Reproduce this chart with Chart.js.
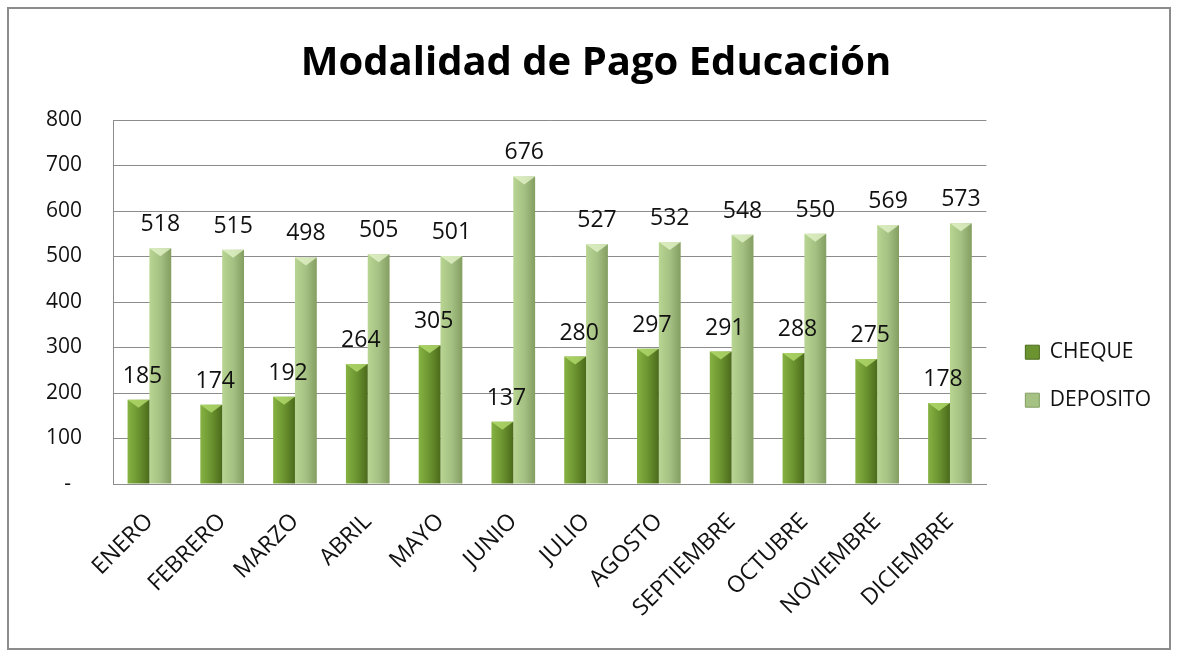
<!DOCTYPE html>
<html>
<head>
<meta charset="utf-8">
<script src="https://cdn.jsdelivr.net/npm/chart.js@4.4.1/dist/chart.umd.min.js"></script>
<style>
  html, body { margin: 0; padding: 0; background: #fff; }
  #frame { position: absolute; left: 7px; top: 7px; width: 1164px; height: 643px; border: 2px solid #8c8c8c; box-sizing: border-box; }
  #wrap { position: absolute; left: 0; top: 0; width: 1180px; height: 654px; }
</style>
</head>
<body>
<div id="frame"></div>
<div id="wrap"><canvas id="pago-chart" width="1180" height="654"></canvas></div>
<script>
let meses = ['ENERO', 'FEBRERO', 'MARZO', 'ABRIL', 'MAYO', 'JUNIO', 'JULIO', 'AGOSTO', 'SEPTIEMBRE', 'OCTUBRE', 'NOVIEMBRE', 'DICIEMBRE'];
let cheque = [185, 174, 192, 264, 305, 137, 280, 297, 291, 288, 275, 178];
let deposito = [518, 515, 498, 505, 501, 676, 527, 532, 548, 550, 569, 573];
let yTicks = [0, 100, 200, 300, 400, 500, 600, 700, 800];

const FONT = "'Open Sans', 'Noto Sans', sans-serif";
const CAT_PCT = 0.6;

// colores de cada serie: borde claro, centro, borde oscuro
const tonos = [
    { solid: '#6b9430', stops: ['#86b242', '#6b9430', '#4b6a1b'], top: '#b4dc6e' },
    { solid: '#a5c183', stops: ['#b9d592', '#a5c183', '#849e61'], top: '#e2f2c8' }
];

function barGradient(c) {
    let t = tonos[c.datasetIndex];
    if (c.type !== 'data') return t.solid;
    let chart = c.chart;
    let xs = chart.scales.x;
    if (!xs || xs.width === 0) return t.solid;
    let catW = xs.width / meses.length;
    let barW = catW * CAT_PCT / 2;
    let center = xs.getPixelForValue(c.dataIndex) + (c.datasetIndex === 0 ? -barW / 2 : barW / 2);
    let g = chart.ctx.createLinearGradient(center - barW / 2, 0, center + barW / 2, 0);
    g.addColorStop(0, t.stops[0]);
    g.addColorStop(0.5, t.stops[1]);
    g.addColorStop(1, t.stops[2]);
    return g;
}

// bisel superior y etiquetas de valor
const etiquetas = {
    id: 'etiquetas',
    afterLayout(chart) {
        // correr titulo y leyenda un poco a la derecha
        chart.titleBlock.left += 14;
        chart.titleBlock.right += 14;
        chart.legend.left += 12;
        chart.legend.right += 12;
    },
    afterDatasetsDraw(chart) {
        const ctx = chart.ctx;
        ctx.save();
        chart.data.datasets.forEach((ds, i) => {
            let meta = chart.getDatasetMeta(i);
            meta.data.forEach((bar, j) => {
                let w = bar.width;
                ctx.fillStyle = tonos[i].top;
                ctx.globalAlpha = 0.8;
                ctx.beginPath();
                ctx.moveTo(bar.x - w / 2, bar.y);
                ctx.lineTo(bar.x + w / 2, bar.y);
                ctx.lineTo(bar.x, bar.y + 8);
                ctx.closePath();
                ctx.fill();
                ctx.globalAlpha = 1;
                ctx.fillStyle = '#111';
                ctx.font = '23px ' + FONT;
                ctx.textAlign = 'center';
                ctx.textBaseline = 'bottom';
                ctx.fillText(ds.data[j], bar.x + (i === 0 ? 4 : 0), bar.y - 12);
            });
        });
        ctx.restore();
    }
};

new Chart(document.getElementById('pago-chart'), {
    type: 'bar',
    data: {
        labels: meses,
        datasets: [
            { label: 'CHEQUE', data: cheque, backgroundColor: barGradient, borderWidth: 0 },
            { label: 'DEPOSITO', data: deposito, backgroundColor: barGradient, borderWidth: 0 }
        ]
    },
    options: {
        responsive: false,
        animation: false,
        layout: { padding: { left: 15, right: 31, top: 30, bottom: 8 } },
        datasets: { bar: { categoryPercentage: CAT_PCT, barPercentage: 1 } },
        scales: {
            x: {
                grid: { display: false, drawTicks: false },
                border: { color: '#8c8c8c', width: 1 },
                ticks: {
                    color: '#111', font: { family: FONT, size: 23 },
                    minRotation: 45, maxRotation: 45, padding: 24
                }
            },
            y: {
                min: 0, max: 800,
                afterBuildTicks: (axis) => { axis.ticks = yTicks.map(v => ({ value: v })); },
                grid: { color: '#8c8c8c', drawTicks: false },
                border: { color: '#8c8c8c', width: 1 },
                ticks: {
                    color: '#111', font: { family: FONT, size: 21 }, padding: 31,
                    callback: v => v === 0 ? '-  ' : v
                }
            }
        },
        plugins: {
            title: {
                display: true, text: 'Modalidad de Pago Educación', color: '#000',
                font: { family: FONT, size: 40, weight: 'bold' },
                padding: { top: 10, bottom: 32 }
            },
            legend: {
                position: 'right',
                title: { display: true, text: ' ', padding: 31 },
                labels: {
                    color: '#111', font: { family: FONT, size: 21 },
                    boxWidth: 14, boxHeight: 14, padding: 27,
                    generateLabels: (chart) => chart.data.datasets.map((ds, i) => ({
                        text: ds.label, fillStyle: tonos[i].solid, strokeStyle: tonos[i].stops[2],
                        lineWidth: 1, datasetIndex: i, fontColor: '#111'
                    }))
                }
            },
            tooltip: { enabled: false }
        }
    },
    plugins: [etiquetas]
});
</script>
</body>
</html>
